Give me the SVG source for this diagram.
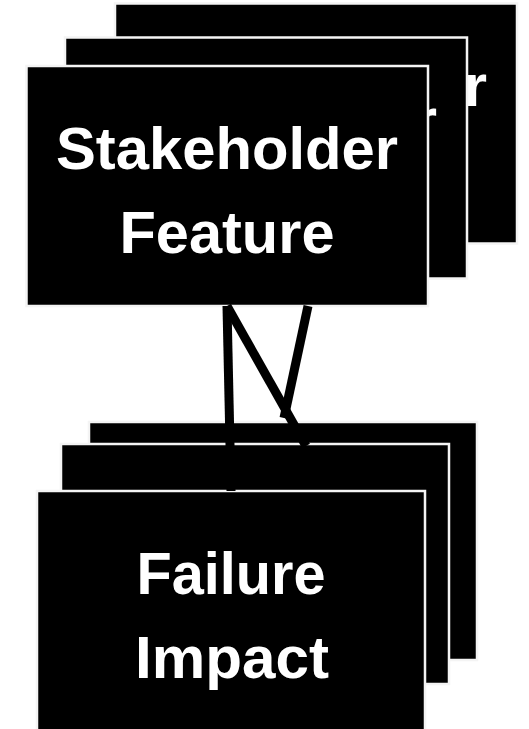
<svg xmlns="http://www.w3.org/2000/svg" width="529" height="729" viewBox="0 0 529 729">
  <style>
    .card { fill: #000000; stroke: #f4f4f4; stroke-width: 2.5; }
    .lbl { fill: #ffffff; font-family: "Liberation Sans", Arial, sans-serif; font-weight: bold; font-size: 60px; text-anchor: middle; }
    .conn { stroke: #000000; stroke-width: 9; fill: none; stroke-linecap: butt; }
  </style>
  <rect x="0" y="0" width="529" height="729" fill="#ffffff"/>

  <g id="stakeholder-feature">
    <g id="stakeholder-feature-back">
      <rect class="card" x="115" y="3.5" width="402" height="240"/>
      <text class="lbl" x="316" y="106" textLength="342" lengthAdjust="spacingAndGlyphs">Stakeholder</text>
    </g>
    <g id="stakeholder-feature-middle">
      <rect class="card" x="65" y="37.5" width="402" height="241"/>
      <text class="lbl" x="266" y="140" textLength="342" lengthAdjust="spacingAndGlyphs">Stakeholder</text>
    </g>
    <g id="stakeholder-feature-front">
      <rect class="card" x="26.5" y="66" width="401.5" height="240"/>
      <text class="lbl" x="227" y="169" textLength="342" lengthAdjust="spacingAndGlyphs">Stakeholder</text>
      <text class="lbl" x="227" y="253" textLength="215" lengthAdjust="spacingAndGlyphs">Feature</text>
    </g>
  </g>

  <g id="failure-impact">
    <g id="failure-impact-back">
      <rect class="card" x="89" y="422" width="388" height="238"/>
    </g>
    <g id="failure-impact-middle">
      <rect class="card" x="61" y="444" width="388" height="240"/>
    </g>
    <g id="failure-impact-front">
      <rect class="card" x="37" y="491" width="388" height="245"/>
      <text class="lbl" x="231" y="594" textLength="189" lengthAdjust="spacingAndGlyphs">Failure</text>
      <text class="lbl" x="232" y="678" textLength="194" lengthAdjust="spacingAndGlyphs">Impact</text>
    </g>
  </g>

  <g id="connectors">
    <line class="conn" x1="227" y1="306" x2="231" y2="491"/>
    <line class="conn" x1="227" y1="306" x2="306" y2="446"/>
    <line class="conn" x1="308" y1="306" x2="284" y2="418"/>
  </g>
</svg>
